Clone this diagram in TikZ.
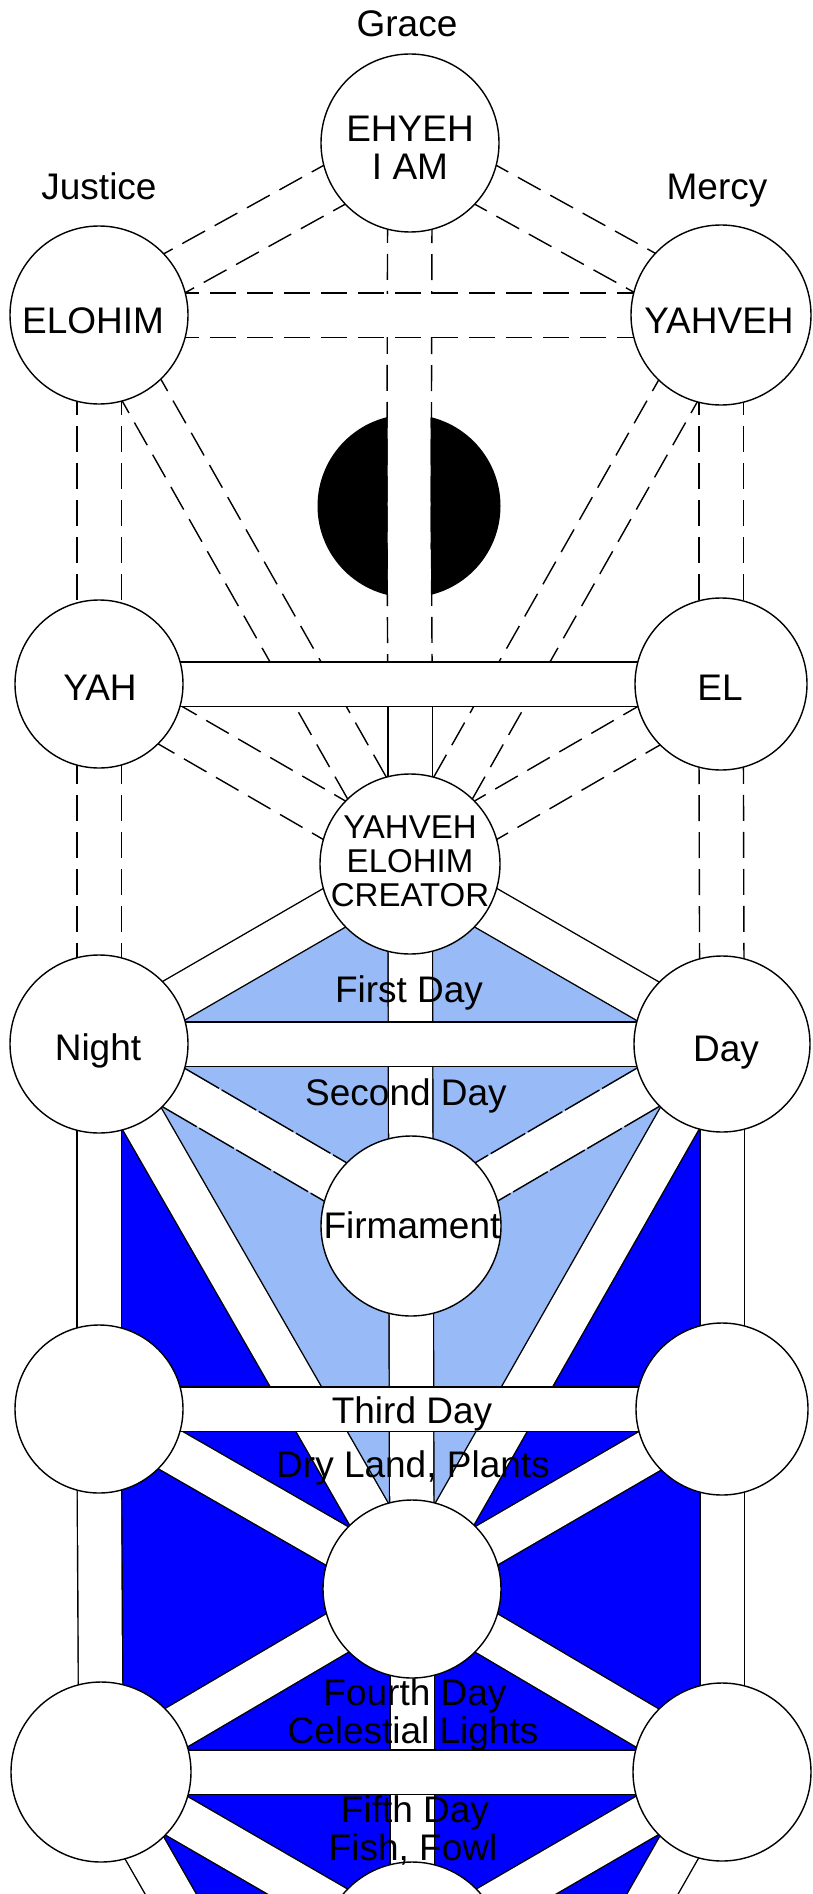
\documentclass[tikz,border=0pt]{standalone}
\usepackage{fontspec}
\setmainfont{Liberation Sans}
\usetikzlibrary{calc}
\pgfdeclarelayer{fills}
\pgfdeclarelayer{bands}
\pgfsetlayers{fills,bands,main}
\definecolor{lightb}{RGB}{152,186,246}
\definecolor{darkb}{RGB}{0,0,255}
\tikzset{
  edgeline/.style={line width=1.4pt, draw=black, dash pattern=on 26pt off 11pt},
  solidband/.style={line width=1.4pt, draw=black, double=white, double distance=43pt},
  sph/.style={circle, draw=black, line width=1.4pt, fill=white, minimum size=178pt, inner sep=0pt},
  lbl/.style={font=\fontsize{37}{39}\selectfont, inner sep=0pt, anchor=base},
  smalllbl/.style={font=\fontsize{33}{34}\selectfont, inner sep=0pt, anchor=base},
}
\newcommand\DashBand[3][]{%
  \path[draw=white, line width=43pt] (#2.center) -- (#3.center);
  \draw[edgeline,#1] ($(#2.center)!22.2pt!90:(#3.center)$) -- ($(#3.center)!22.2pt!-90:(#2.center)$);
  \draw[edgeline,#1] ($(#2.center)!22.2pt!-90:(#3.center)$) -- ($(#3.center)!22.2pt!90:(#2.center)$);
}
\newcommand\SolidBand[2]{%
  \draw[solidband] (#1.center) -- (#2.center);
}
\begin{document}
\begin{tikzpicture}[x=1pt,y=-1pt]
\useasboundingbox (0,0) rectangle (813,1894);
\clip (0,0) rectangle (813,1894);
% spheres
\node[sph] (keter) at (410,143) {};
\node[sph] (binah) at (99,315) {};
\node[sph, minimum size=180pt] (chokmah) at (721,315) {};
\node[sph, minimum size=168pt] (gevurah) at (99,684) {};
\node[sph, minimum size=172pt] (chesed) at (721,684) {};
\node[sph, minimum size=180pt] (tiferet) at (410,864) {};
\node[sph] (night) at (99,1044) {};
\node[sph, minimum size=176pt] (day) at (722,1044) {};
\node[sph, minimum size=180pt] (firm) at (411,1226) {};
\node[sph, minimum size=168pt] (l3) at (99,1409) {};
\node[sph, minimum size=172pt] (r3) at (722,1409) {};
\node[sph] (c4) at (412,1589) {};
\node[sph, minimum size=180pt] (l5) at (101,1772) {};
\node[sph] (r5) at (722,1772) {};
\node[sph, minimum size=180pt] (c6) at (412,1952) {};
\coordinate (c8) at (412,2316);
\coordinate (pv) at (410,684);
% fills
\begin{pgfonlayer}{fills}
\clip (0,0) rectangle (813,1894);
\fill[darkb] (night.center) -- (l3.center) -- (l5.center) -- (c8) -- (r5.center) -- (r3.center) -- (day.center) -- (c4.center) -- cycle;
\fill[lightb] (tiferet.center) -- (night.center) -- (c4.center) -- (day.center) -- cycle;
\node[circle, fill=black, minimum size=183pt, inner sep=0pt] (daat) at (409,506) {};
\end{pgfonlayer}
% paths
\begin{pgfonlayer}{bands}
\clip (0,0) rectangle (813,1894);
\DashBand{keter}{daat}
\DashBand{daat}{pv}
\SolidBand{pv}{tiferet}
\SolidBand{tiferet}{firm}
\SolidBand{firm}{c4}
\SolidBand{c4}{c6}
\DashBand{binah}{gevurah}
\DashBand{gevurah}{night}
\DashBand{chokmah}{chesed}
\DashBand{chesed}{day}
\SolidBand{night}{l3}
\SolidBand{l3}{l5}
\SolidBand{day}{r3}
\SolidBand{r3}{r5}
\DashBand{keter}{binah}
\DashBand{keter}{chokmah}
\DashBand{binah}{tiferet}
\DashBand{chokmah}{tiferet}
\DashBand{gevurah}{tiferet}
\DashBand{chesed}{tiferet}
\SolidBand{tiferet}{night}
\SolidBand{tiferet}{day}
\DashBand[dash pattern=on 40pt off 3pt]{night}{firm}
\DashBand[dash pattern=on 40pt off 3pt]{day}{firm}
\SolidBand{night}{c4}
\SolidBand{day}{c4}
\SolidBand{l3}{c4}
\SolidBand{r3}{c4}
\SolidBand{l5}{c4}
\SolidBand{r5}{c4}
\SolidBand{l5}{c6}
\SolidBand{r5}{c6}
\SolidBand{l5}{c8}
\SolidBand{r5}{c8}
\DashBand{binah}{chokmah}
\SolidBand{gevurah}{chesed}
\SolidBand{night}{day}
\SolidBand{l3}{r3}
\SolidBand{l5}{r5}
\end{pgfonlayer}
% texts
\node[lbl] (tGrace) at (407,37) {Grace};
\node[lbl] (tJustice) at (99,200) {Justice};
\node[lbl] (tMercy) at (717,200) {Mercy};
\node[lbl] (tK1) at (410,142) {EHYEH};
\node[lbl] (tK2) at (410,180) {I AM};
\node[lbl] (tB) at (93,333) {ELOHIM};
\node[lbl] (tC) at (719,333) {YAHVEH};
\node[lbl] (tG) at (100,700) {YAH};
\node[lbl] (tCh) at (720,700) {EL};
\node[smalllbl] (tT1) at (410,838) {YAHVEH};
\node[smalllbl] (tT2) at (410,872) {ELOHIM};
\node[smalllbl] (tT3) at (410,906) {CREATOR};
\node[lbl] (tN) at (98,1060) {Night};
\node[lbl] (tD) at (726,1061) {Day};
\node[lbl] (tFirst) at (409,1002) {First Day};
\node[lbl] (tSecond) at (406,1105) {Second Day};
\node[lbl] (tFirm) at (412,1238) {Firmament};
\node[lbl] (tThird) at (412,1423) {Third Day};
\node[lbl] (tDry) at (413,1477) {Dry Land, Plants};
\node[lbl] (tFourth) at (415,1705) {Fourth Day};
\node[lbl] (tCel) at (413,1743) {Celestial Lights};
\node[lbl] (tFifth) at (415,1822) {Fifth Day};
\node[lbl] (tFish) at (413,1860) {Fish, Fowl};
\end{tikzpicture}
\end{document}
